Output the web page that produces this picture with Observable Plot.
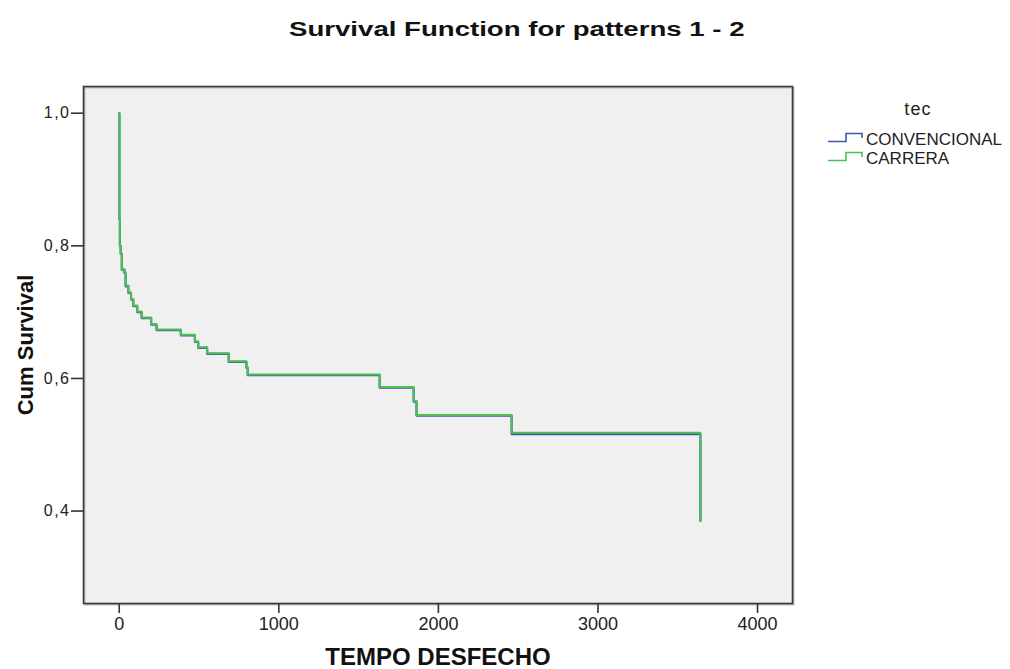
<!DOCTYPE html>
<html>
<head>
<meta charset="utf-8">
<script src="https://cdn.jsdelivr.net/npm/d3@7"></script>
<script src="https://cdn.jsdelivr.net/npm/@observablehq/plot@0.6"></script>
<style>
  html, body { margin: 0; padding: 0; background: #ffffff; }
  #wrap { position: relative; width: 1010px; height: 669px; overflow: hidden; font-family: "Liberation Sans", Arial, sans-serif; }
  #titlebox { position: relative; height: 60px; }
  #title { position: absolute; left: 289px; top: 19px; font-size: 20px; font-weight: bold; line-height: 20px; color: #111; white-space: nowrap; transform: scaleX(1.38); transform-origin: 0 0; }
  #chart svg { display: block; }
  #legend { position: absolute; left: 0; top: 0; pointer-events: none; }
</style>
</head>
<body>
<div id="wrap">
  <div id="titlebox"><div id="title">Survival Function for patterns 1 - 2</div></div>
  <div id="chart"></div>
  <svg id="legend" width="1010" height="669"></svg>
</div>
<script>
// ---- data (time in TEMPO DESFECHO units, cumulative survival) ----
const times        = [0, 1, 4, 9, 16, 32, 40, 57, 74, 88, 113, 140, 200, 234, 386, 474, 495, 551, 686, 797, 805, 1632, 1845, 1863, 2459, 3642];
const carrera      = [1.000, 0.840, 0.800, 0.788, 0.765, 0.760, 0.740, 0.730, 0.720, 0.710, 0.701, 0.692, 0.682, 0.674, 0.666, 0.656, 0.647, 0.638, 0.626, 0.617, 0.606, 0.587, 0.566, 0.545, 0.518, 0.385];
const convencional = [1.000, 0.840, 0.800, 0.788, 0.764, 0.759, 0.739, 0.729, 0.719, 0.709, 0.700, 0.691, 0.681, 0.673, 0.665, 0.655, 0.646, 0.637, 0.625, 0.616, 0.605, 0.586, 0.565, 0.544, 0.516, 0.385];
const seriesNames  = ["CONVENCIONAL", "CARRERA"];
const seriesColors = ["#3e58ac", "#4cc151"];
const xTicks = [0, 1000, 2000, 3000, 4000];
const yTicks = [0.4, 0.6, 0.8, 1.0];
const titleText = "Survival Function for patterns 1 - 2";
const xLabel = "TEMPO DESFECHO";
const yLabel = "Cum Survival";
const legendTitle = "tec";

document.getElementById("title").textContent = titleText;

const blueData  = times.map((t, i) => ({t, s: convencional[i], tec: seriesNames[0]}));
const greenData = times.map((t, i) => ({t, s: carrera[i], tec: seriesNames[1]}));

const chart = Plot.plot({
  width: 1010,
  height: 609,
  marginTop: 26,
  marginBottom: 66,
  marginLeft: 83,
  marginRight: 218,
  style: { background: "transparent", fontFamily: "'Liberation Sans', Arial, sans-serif", color: "#222" },
  x: { domain: [-224, 4219], label: null },
  y: { domain: [0.2606, 1.0403], label: null },
  marks: [
    Plot.frame({ fill: "#f0f0f0" }),
    Plot.line(blueData,  { x: "t", y: "s", curve: "step-after", stroke: seriesColors[0], strokeWidth: 2.2 }),
    Plot.line(greenData, { x: "t", y: "s", curve: "step-after", stroke: seriesColors[1], strokeWidth: 2 }),
    Plot.frame({ stroke: "#b5b5b5", strokeWidth: 1.5, dx: 1.2, dy: 1.2 }),
    Plot.frame({ stroke: "#3a3a3a", strokeWidth: 1.6 }),
    Plot.axisX({ ticks: xTicks, tickFormat: d => String(d), tickSize: 10, tickPadding: 4, fontSize: 18, stroke: "#333", strokeWidth: 1.6, label: null }),
    Plot.axisY({ ticks: yTicks, tickFormat: d => d.toFixed(1).replace(".", ","), tickSize: 12, tickPadding: 1, fontSize: 16, stroke: "#333", strokeWidth: 1.6, label: null }),
    Plot.text([xLabel], { text: d => d, frameAnchor: "bottom", lineAnchor: "bottom", dy: 61, fontSize: 24, fontWeight: "bold", fill: "#111", ariaLabel: "xlabel" }),
    Plot.text([yLabel], { text: d => d, frameAnchor: "left", rotate: -90, lineAnchor: "bottom", textAnchor: "middle", dx: -51, fontSize: 22, fontWeight: "bold", fill: "#111", ariaLabel: "ylabel" })
  ]
});
document.getElementById("chart").appendChild(chart);

// stretch the x-axis title to the reference width
d3.select(chart).selectAll('g[aria-label="xlabel"] text')
  .attr("textLength", 250).attr("lengthAdjust", "spacingAndGlyphs");
d3.select(chart).selectAll('g[aria-label="y-axis tick label"] text')
  .attr("letter-spacing", 1.5);

// legend (right side)
const lg = d3.select("#legend");
lg.append("text").attr("x", 918).attr("y", 115).attr("text-anchor", "middle")
  .attr("font-size", 18).attr("letter-spacing", 1.2).attr("fill", "#222")
  .attr("font-family", "'Liberation Sans', Arial, sans-serif").text(legendTitle);
const rows = [141.5, 160.5];
seriesNames.forEach((name, i) => {
  const yl = rows[i];
  lg.append("path").attr("d", `M828,${yl} H846 V${yl - 8} H862 V${yl - 3.5}`)
    .attr("fill", "none").attr("stroke", seriesColors[i]).attr("stroke-width", 1.6);
  lg.append("text").attr("x", 866).attr("y", yl + 3.5).attr("font-size", 17).attr("fill", "#222")
    .attr("font-family", "'Liberation Sans', Arial, sans-serif").text(name);
});
</script>
</body>
</html>
